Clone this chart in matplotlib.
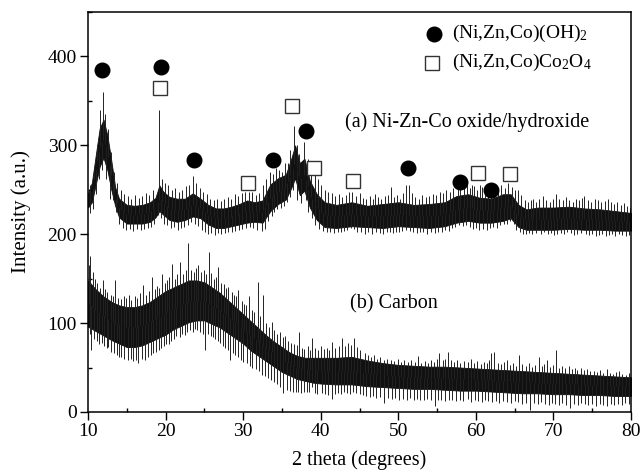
import numpy as np
import matplotlib
matplotlib.use('agg')
import matplotlib.pyplot as plt
from matplotlib.ticker import MultipleLocator

plt.rcParams['font.family'] = ['Liberation Serif', 'DejaVu Serif']
plt.rcParams['mathtext.fontset'] = 'custom'
plt.rcParams['mathtext.rm'] = 'Liberation Serif'
plt.rcParams['mathtext.it'] = 'Liberation Serif:italic'

# (a) Ni-Zn-Co oxide/hydroxide : dense core of the noise band
a_x = [10, 10.5, 11, 11.5, 12, 12.5, 13, 13.5, 14, 15, 16, 17, 18, 18.7, 19.2, 19.7,
       20.5, 21.5, 22.5, 23.5, 24.5, 25.5, 26.5, 27.5, 28.5, 29.5, 30.5, 31.5, 32.5,
       33.5, 34.5, 35.5, 36.2, 36.7, 37.3, 37.9, 38.6, 39.5, 40.5, 42, 44, 46, 48, 50,
       52, 54, 56, 57.5, 59, 60.5, 62, 63.5, 64.5, 65.5, 66.5, 68, 70, 72, 74, 76, 78, 80]
a_lo = [230, 236, 256, 276, 286, 272, 250, 232, 219, 212, 212, 212, 214, 219, 226, 222,
        216, 214, 216, 220, 218, 211, 207, 207, 209, 211, 213, 214, 213, 226, 234, 239,
        252, 263, 244, 249, 230, 216, 208, 207, 209, 208, 207, 209, 208, 207, 209, 213,
        215, 213, 213, 215, 218, 208, 205, 205, 205, 206, 205, 205, 204, 204]
a_hi = [246, 258, 289, 319, 329, 311, 283, 253, 240, 233, 232, 233, 236, 241, 255, 248,
        242, 240, 240, 246, 240, 233, 229, 229, 231, 234, 238, 236, 238, 256, 263, 267,
        285, 300, 280, 285, 260, 245, 236, 233, 236, 232, 234, 236, 233, 234, 236, 243,
        245, 241, 240, 245, 245, 233, 228, 230, 230, 231, 229, 228, 226, 224]
# spike tips above the band
a_up_x = [10.3, 10.8, 11.2, 11.6, 11.9, 12.2, 12.6, 13.0, 13.4, 13.8, 14.3, 14.7, 15.2,
          15.6, 16.1, 16.6, 17.0, 17.5, 17.9, 18.4, 19.1, 19.5, 19.9, 20.3, 20.8, 21.2,
          21.7, 22.1, 22.6, 23.0, 23.5, 23.9, 24.4, 24.8, 25.3, 25.7, 26.2, 26.6, 27.1,
          27.5, 28.0, 28.4, 28.9, 29.3, 29.8, 30.2, 30.7, 31.2, 31.6, 32.1, 32.6, 33.0,
          33.5, 33.9, 34.2, 34.6, 35.0, 35.4, 35.8, 36.1, 36.6, 36.9, 37.2, 37.8, 38.3,
          38.8, 39.2, 39.6, 40.1, 40.5, 41.0, 41.4, 41.9, 42.3, 42.8, 43.2, 43.6, 44.0,
          44.5, 45.0, 45.4, 45.9, 46.3, 46.8, 47.0, 47.4, 47.8, 48.3, 48.7, 49.0, 49.4,
          49.8, 50.2, 50.6, 51.0, 51.4, 51.8, 52.2, 52.7, 53.1, 53.6, 54.0, 54.5, 54.9,
          55.4, 55.8, 56.2, 56.7, 57.1, 57.7, 58.0, 58.5, 58.9, 59.3, 59.5, 59.8, 60.2,
          60.5, 60.8, 61.2, 61.6, 62.0, 62.4, 62.9, 63.3, 63.7, 64.2, 64.6, 65.0, 65.4,
          65.8, 66.3, 66.7, 67.1, 67.4, 67.8, 68.2, 68.6, 69.0, 69.5, 69.9, 70.3, 70.7,
          71.2, 71.6, 72.0, 72.5, 72.9, 73.3, 73.7, 74.0, 74.4, 74.8, 75.3, 75.7, 76.1,
          76.6, 77.0, 77.4, 77.8, 78.2, 78.7, 79.1, 79.5, 79.9]
a_up_y = [255, 270, 300, 340, 360, 335, 318, 292, 270, 258, 250, 245, 243,
          240, 244, 241, 243, 246, 244, 250, 340, 262, 258, 255, 250, 252,
          248, 250, 254, 255, 266, 258, 252, 248, 245, 240, 238, 240, 237,
          240, 242, 240, 245, 243, 246, 248, 247, 248, 244, 246, 255, 262,
          270, 268, 275, 272, 270, 280, 280, 295, 322, 300, 290, 304, 285,
          278, 268, 262, 255, 250, 248, 246, 243, 245, 242, 244, 247, 247,
          243, 246, 241, 240, 243, 240, 245, 242, 240, 243, 244, 253, 242,
          244, 240, 246, 255, 255, 246, 242, 240, 244, 242, 243, 245, 244,
          248, 246, 250, 248, 252, 252, 256, 255, 257, 252, 255, 254, 250,
          255, 253, 248, 252, 250, 248, 252, 255, 252, 258, 253, 250, 250,
          244, 238, 236, 238, 240, 236, 240, 243, 238, 236, 240, 245, 240,
          238, 242, 238, 236, 240, 238, 241, 243, 238, 236, 240, 238, 236,
          237, 240, 236, 234, 236, 233, 235, 232, 230]
# dips below the band
a_dn_x = [10.2, 10.6, 11.0, 11.4, 11.8, 12.3, 12.8, 13.2, 13.6, 14.0, 14.5, 14.9, 15.4,
          15.8, 16.3, 16.8, 17.2, 17.7, 18.1, 18.5, 19.0, 19.4, 19.8, 20.2, 20.7, 21.1,
          21.6, 22.0, 22.4, 22.9, 23.3, 23.8, 24.2, 24.7, 25.1, 25.5, 25.9, 26.4, 26.8,
          27.2, 27.7, 28.1, 28.6, 29.0, 29.5, 29.9, 30.4, 30.9, 31.3, 31.8, 32.4, 32.8,
          33.2, 33.7, 34.0, 34.4, 34.9, 35.3, 35.7, 36.0, 36.4, 37.0, 37.5, 38.1, 38.4,
          38.9, 39.3, 39.8, 40.3, 40.8, 41.2, 41.7, 42.2, 42.6, 43.0, 43.4, 43.9, 44.3,
          44.7, 45.2, 45.7, 46.1, 46.6, 47.1, 47.6, 48.0, 48.5, 48.9, 49.3, 49.7, 50.1,
          50.5, 51.0, 51.5, 51.9, 52.4, 52.8, 53.2, 53.7, 54.2, 54.7, 55.1, 55.6, 56.0,
          56.5, 56.9, 57.3, 57.8, 58.3, 58.7, 59.2, 59.6, 60.0, 60.4, 60.9, 61.4, 61.8,
          62.2, 62.7, 63.1, 63.6, 64.0, 64.4, 64.9, 65.2, 65.7, 66.1, 66.5, 66.9, 67.3,
          67.7, 68.4, 68.8, 69.3, 69.7, 70.1, 70.5, 71.0, 71.4, 71.8, 72.3, 72.7, 73.1,
          73.5, 74.2, 74.6, 75.0, 75.5, 75.9, 76.3, 76.8, 77.2, 77.6, 78.0, 78.5, 78.9,
          79.3, 79.7]
a_dn_y = [224, 228, 245, 262, 272, 262, 240, 238, 225, 212, 207, 205, 206,
          204, 206, 205, 206, 207, 208, 212, 222, 218, 212, 210, 207, 208,
          205, 207, 208, 210, 214, 212, 209, 205, 203, 200, 201, 199, 201,
          200, 201, 202, 203, 204, 205, 206, 207, 208, 207, 205, 204, 206,
          215, 220, 225, 228, 230, 232, 236, 242, 250, 238, 235, 238, 225,
          218, 210, 206, 204, 202, 203, 201, 202, 203, 204, 205, 207, 206,
          203, 202, 200, 202, 200, 203, 201, 200, 202, 203, 201, 203, 202,
          204, 205, 204, 202, 201, 202, 202, 200, 202, 201, 202, 203, 205,
          204, 207, 208, 210, 209, 210, 208, 206, 207, 205, 206, 205, 207,
          208, 207, 210, 211, 212, 215, 212, 205, 202, 200, 200, 201, 200,
          201, 200, 202, 200, 201, 199, 200, 201, 200, 202, 201, 199, 200,
          201, 200, 199, 200, 198, 199, 200, 198, 199, 200, 198, 200, 199,
          198, 199]

# (b) Carbon : dense core of the noise band
b_x = [10, 11, 12, 13, 14, 15, 16, 17, 18, 19, 20, 21, 22, 23, 24, 25, 26, 27, 28, 29,
       30, 31, 32, 33, 34, 35, 36, 37, 38, 39, 40, 42, 44, 46, 48, 50, 52, 54, 56, 58,
       60, 62, 64, 66, 68, 70, 72, 74, 76, 78, 80]
b_lo = [96, 91, 86, 81, 77, 73, 73, 75, 79, 83, 87, 93, 97, 101, 103, 103, 99, 95, 89, 83,
        77, 69, 63, 57, 51, 45, 41, 37, 35, 33, 32, 31, 31, 29, 28, 27, 26, 26, 25, 24,
        24, 23, 22, 21, 21, 20, 20, 19, 19, 18, 18]
b_hi = [148, 138, 130, 124, 120, 118, 118, 120, 124, 130, 136, 140, 144, 148, 148, 146,
        140, 134, 126, 118, 110, 102, 94, 86, 79, 73, 67, 63, 61, 61, 61, 61, 62, 58, 55,
        53, 52, 51, 51, 50, 49, 48, 47, 46, 45, 44, 43, 42, 41, 40, 39]
b_up_x = [10.1, 10.3, 10.6, 10.9, 11.2, 11.5, 11.9, 12.2, 12.5, 12.9, 13.2, 13.5, 13.9,
          14.2, 14.6, 14.9, 15.3, 15.6, 16.0, 16.3, 16.7, 17.1, 17.5, 17.8, 18.2, 18.6,
          18.9, 19.2, 19.5, 19.9, 20.2, 20.5, 20.8, 21.2, 21.5, 21.9, 22.2, 22.6, 22.9,
          23.3, 23.6, 23.9, 24.2, 24.6, 24.9, 25.2, 25.6, 25.9, 26.2, 26.5, 26.8, 27.2,
          27.5, 27.8, 28.1, 28.5, 28.8, 29.1, 29.4, 29.8, 30.1, 30.4, 30.7, 31.1, 31.4,
          31.9, 32.2, 32.6, 32.9, 33.3, 33.7, 34.0, 34.4, 34.7, 35.1, 35.4, 35.8, 36.2,
          36.5, 36.9, 37.2, 37.6, 37.9, 38.3, 38.6, 38.9, 39.3, 39.6, 40.0, 40.4, 40.8,
          41.1, 41.5, 41.9, 42.3, 42.7, 43.1, 43.5, 43.9, 44.3, 44.7, 45.1, 45.7, 46.1,
          46.5, 46.9, 47.3, 47.7, 48.1, 48.6, 49.1, 49.5, 50.0, 50.4, 50.8, 51.3, 51.7,
          52.1, 52.5, 52.9, 53.4, 53.8, 54.2, 54.6, 55.0, 55.3, 55.7, 56.0, 56.4, 56.8,
          57.2, 57.6, 58.0, 58.5, 59.0, 59.4, 59.8, 60.2, 60.6, 61.0, 61.4, 61.7, 62.0,
          62.4, 62.8, 63.2, 63.6, 64.0, 64.4, 64.8, 65.2, 65.6, 66.0, 66.4, 66.8, 67.2,
          67.6, 68.1, 68.5, 68.8, 69.2, 69.6, 70.0, 70.3, 70.7, 71.1, 71.5, 72.0, 72.4,
          72.8, 73.1, 73.5, 73.9, 74.3, 74.7, 75.2, 75.6, 76.0, 76.4, 76.9, 77.3, 77.7,
          78.1, 78.5, 78.9, 79.3, 79.7]
b_up_y = [165, 175, 158, 150, 145, 140, 148, 138, 135, 132, 130, 148, 128,
          127, 130, 128, 132, 126, 130, 128, 134, 143, 132, 136, 152, 138,
          142, 140, 155, 145, 148, 152, 167, 150, 155, 169, 155, 160, 190,
          160, 158, 162, 165, 158, 160, 155, 180, 156, 150, 152, 163, 145,
          144, 140, 141, 135, 132, 130, 137, 125, 122, 120, 130, 115, 112,
          146, 108, 132, 100, 96, 101, 92, 88, 90, 84, 86, 80, 78,
          76, 75, 90, 72, 71, 74, 70, 83, 72, 70, 74, 71, 72,
          70, 79, 72, 74, 83, 74, 78, 75, 83, 73, 70, 66, 64,
          62, 64, 60, 62, 58, 60, 59, 57, 60, 56, 58, 56, 58,
          56, 63, 55, 57, 55, 58, 56, 60, 66, 58, 60, 67, 58,
          56, 58, 55, 57, 56, 60, 55, 57, 54, 56, 55, 58, 66,
          67, 55, 54, 56, 59, 53, 55, 52, 64, 54, 52, 55, 51,
          53, 62, 52, 54, 59, 51, 53, 70, 50, 52, 49, 52, 48,
          50, 47, 50, 47, 48, 46, 46, 45, 47, 44, 48, 44, 43,
          45, 46, 43, 42, 44]
b_dn_x = [10.2, 10.4, 10.8, 11.1, 11.4, 11.8, 12.1, 12.4, 12.6, 13.0, 13.3, 13.7, 14.0,
          14.3, 14.7, 15.1, 15.5, 15.8, 16.2, 16.5, 16.9, 17.4, 17.7, 18.1, 18.4, 18.8,
          19.1, 19.4, 19.8, 20.1, 20.4, 20.7, 21.1, 21.4, 21.8, 22.1, 22.5, 22.8, 23.2,
          23.5, 23.8, 24.1, 24.5, 24.8, 25.1, 25.5, 25.8, 26.1, 26.4, 26.7, 27.0, 27.4,
          27.7, 28.0, 28.3, 28.7, 29.0, 29.3, 29.7, 30.0, 30.5, 30.9, 31.2, 31.6, 32.0,
          32.4, 32.8, 33.2, 33.6, 34.0, 34.4, 34.8, 35.2, 35.6, 36.0, 36.4, 36.8, 37.1,
          37.5, 37.8, 38.2, 38.5, 38.9, 39.2, 39.5, 40.2, 40.6, 41.0, 41.5, 41.8, 42.2,
          42.6, 43.0, 43.4, 43.8, 44.2, 44.6, 45.0, 45.4, 45.9, 46.3, 46.7, 47.1, 47.6,
          48.2, 48.7, 49.2, 49.6, 50.1, 50.6, 51.1, 51.5, 52.0, 52.4, 52.8, 53.3, 53.7,
          54.2, 54.7, 55.1, 55.5, 56.0, 56.5, 56.9, 57.4, 57.9, 58.4, 59.0, 59.4, 59.9,
          60.3, 60.8, 61.2, 61.6, 62.1, 62.6, 63.0, 63.5, 64.0, 64.5, 65.0, 65.4, 65.9,
          66.4, 67.0, 67.5, 68.0, 68.4, 68.9, 69.4, 69.8, 70.2, 70.7, 71.1, 71.6, 72.2,
          72.7, 73.2, 73.6, 74.1, 74.5, 75.0, 75.5, 76.0, 76.4, 76.9, 77.4, 77.8, 78.3,
          78.8, 79.2, 79.7]
b_dn_y = [88, 70, 82, 80, 76, 78, 74, 72, 73, 68, 66, 64, 62,
          62, 60, 58, 60, 57, 58, 55, 60, 59, 62, 64, 66, 68,
          70, 72, 74, 77, 76, 80, 82, 85, 84, 88, 87, 90, 92,
          90, 93, 92, 90, 88, 70, 88, 86, 84, 82, 80, 78, 74,
          72, 70, 59, 66, 64, 62, 58, 56, 55, 52, 50, 48, 46,
          42, 40, 38, 36, 34, 31, 28, 21, 25, 24, 23, 22, 22,
          21, 22, 23, 22, 28, 21, 20, 21, 20, 19, 15, 20, 21,
          20, 22, 21, 20, 22, 21, 20, 19, 18, 17, 18, 16, 17,
          10, 16, 15, 16, 14, 15, 14, 16, 13, 15, 14, 13, 15,
          14, 7, 14, 13, 12, 14, 13, 12, 14, 12, 15, 11, 13,
          12, 11, 13, 12, 11, 12, 10, 12, 11, 10, 12, 11, 9,
          10, 2, 10, 9, 11, 9, 8, 10, 9, 8, 10, 8, 5,
          9, 8, 10, 9, 8, 9, 7, 9, 8, 7, 9, 8, 9,
          8, 10, 9]

# peak markers
oh_x = [11.85, 19.4, 23.7, 33.9, 38.1, 51.2, 58.0, 62.0]
oh_y = [385, 388, 283, 284, 316, 275, 259, 250]
co_x = [19.3, 30.6, 36.3, 39.1, 44.1, 60.3, 64.4]
co_y = [364, 258, 344, 274, 260, 269, 268]

INK = '#111111'


def draw_trace(ax, x, lo, hi, ux, uy, dx, dy):
    ax.fill_between(x, lo, hi, color=INK, linewidth=0.6)
    mid = (np.array(lo) + np.array(hi)) / 2.0
    ax.vlines(ux, np.interp(ux, x, mid), uy, color='#222222', linewidth=0.7)
    ax.vlines(dx, dy, np.interp(dx, x, mid), color='#222222', linewidth=0.7)


fig = plt.figure(figsize=(6.41, 4.73), dpi=100)
ax = fig.add_axes([0.1373, 0.129, 0.8471, 0.8456])

draw_trace(ax, a_x, a_lo, a_hi, a_up_x, a_up_y, a_dn_x, a_dn_y)
draw_trace(ax, b_x, b_lo, b_hi, b_up_x, b_up_y, b_dn_x, b_dn_y)

ax.plot(oh_x, oh_y, 'o', color='black', markersize=10.5, linestyle='none')
ax.plot(co_x, co_y, 's', markerfacecolor='white', markeredgecolor='#333333',
        markeredgewidth=1.0, markersize=10.5, linestyle='none')

# legend
ax.plot([0.638], [0.946], 'o', color='black', markersize=10.5, transform=ax.transAxes, clip_on=False)
ax.plot([0.633], [0.873], 's', markerfacecolor='white', markeredgecolor='#333333',
        markeredgewidth=1.0, markersize=10.5, transform=ax.transAxes, clip_on=False)
ax.text(0.67, 0.946, r'(Ni,Zn,Co)(OH)$_2$', transform=ax.transAxes, fontsize=14,
        va='center', ha='left')
ax.text(0.67, 0.873, r'(Ni,Zn,Co)Co$_2$O$_4$', transform=ax.transAxes, fontsize=14,
        va='center', ha='left')

ax.text(43.1, 326, '(a) Ni-Zn-Co oxide/hydroxide', fontsize=14.5, va='center', ha='left')
ax.text(43.8, 122, '(b) Carbon', fontsize=14.5, va='center', ha='left')

ax.set_xlim(10, 80)
ax.set_ylim(0, 450)
ax.xaxis.set_major_locator(MultipleLocator(10))
ax.xaxis.set_minor_locator(MultipleLocator(5))
ax.yaxis.set_major_locator(MultipleLocator(100))
ax.yaxis.set_minor_locator(MultipleLocator(50))
ax.tick_params(which='major', direction='out', length=6, width=1.0, labelsize=14, pad=2)
ax.tick_params(which='minor', direction='in', length=3, width=1.0)
for s in ax.spines.values():
    s.set_linewidth(1.1)

ax.set_xlabel('2 theta (degrees)', fontsize=14.5, labelpad=7)
ax.set_ylabel('Intensity (a.u.)', fontsize=15, labelpad=12)

fig.savefig('out.png', dpi=100)
